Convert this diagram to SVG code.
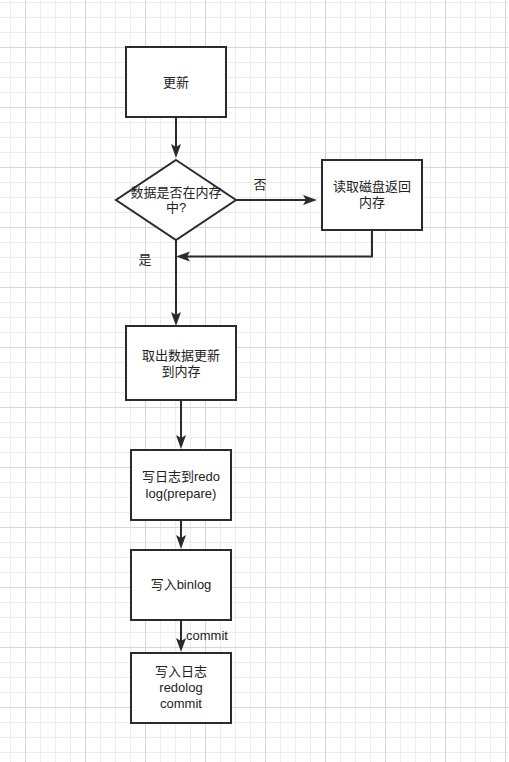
<svg xmlns="http://www.w3.org/2000/svg" width="509" height="762" viewBox="0 0 509 762">
<style>
.node rect, .node polygon { fill: #ffffff; stroke: #2b2b2b; stroke-width: 2; }
.conn { fill: none; stroke: #2b2b2b; stroke-width: 2; marker-end: url(#arrow); }
text { font-family: "Liberation Sans", "Noto Sans CJK SC", sans-serif; font-size: 13px; fill: #222222; }
.c { text-anchor: middle; }
</style>
<defs>
<pattern id="grid" patternUnits="userSpaceOnUse" x="25" y="47" width="60" height="60">
<path d="M15.5,0 V60 M30.5,0 V60 M45.5,0 V60 M0,15.5 H60 M0,30.5 H60 M0,45.5 H60" stroke="#ececec" stroke-width="1" fill="none"/>
<path d="M0.5,0 V60 M0,0.5 H60" stroke="#d6d6d6" stroke-width="1" fill="none"/>
</pattern>
<marker id="arrow" markerUnits="userSpaceOnUse" markerWidth="15" markerHeight="12" refX="4" refY="6" orient="auto">
<path d="M0,1 L14,6 L0,11 L3,6 Z" fill="#2b2b2b"/>
</marker>
</defs>
<rect x="0" y="0" width="509" height="762" fill="#ffffff"/>
<rect x="0" y="0" width="509" height="762" fill="url(#grid)"/>

<g id="connectors">
<line class="conn" x1="176" y1="117" x2="176" y2="148"/>
<line class="conn" x1="236" y1="200" x2="307" y2="200"/>
<path class="conn" d="M372,230 V256.5 H186"/>
<line class="conn" x1="176" y1="240" x2="176" y2="316"/>
<line class="conn" x1="181" y1="400" x2="181" y2="439"/>
<line class="conn" x1="181" y1="520" x2="181" y2="539"/>
<line class="conn" x1="181" y1="620" x2="181" y2="642"/>
<text x="260" y="189" class="c">否</text>
<text x="145" y="264" class="c">是</text>
<text x="186" y="640">commit</text>
</g>

<g id="n1" class="node">
<rect x="126" y="47" width="100" height="70"/>
<text x="176" y="86.5" class="c">更新</text>
</g>
<g id="n2" class="node">
<polygon points="176,160 236,200 176,240 116,200"/>
<text x="176" y="197" class="c">数据是否在内存</text>
<text x="176" y="211.5" class="c">中?</text>
</g>
<g id="n3" class="node">
<rect x="322" y="160" width="100" height="70"/>
<text x="372" y="190.5" class="c">读取磁盘返回</text>
<text x="372" y="207" class="c">内存</text>
</g>
<g id="n4" class="node">
<rect x="126" y="326" width="110" height="74"/>
<text x="181" y="359.5" class="c">取出数据更新</text>
<text x="181" y="376" class="c">到内存</text>
</g>
<g id="n5" class="node">
<rect x="131" y="450" width="100" height="70"/>
<text x="181" y="480.5" class="c">写日志到redo</text>
<text x="181" y="497.5" class="c">log(prepare)</text>
</g>
<g id="n6" class="node">
<rect x="131" y="550" width="100" height="70"/>
<text x="181" y="589" class="c">写入binlog</text>
</g>
<g id="n7" class="node">
<rect x="131" y="653" width="100" height="70"/>
<text x="181" y="676" class="c">写入日志</text>
<text x="181" y="692" class="c">redolog</text>
<text x="181" y="708" class="c">commit</text>
</g>
</svg>
